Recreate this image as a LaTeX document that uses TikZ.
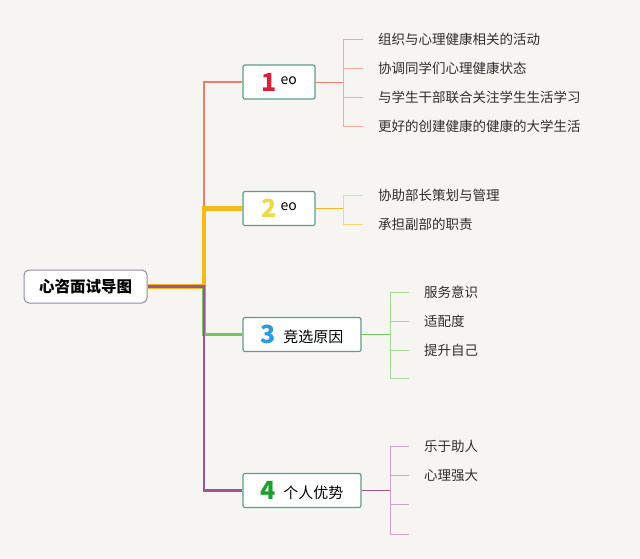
\documentclass[tikz,border=0pt]{standalone}
\usepackage{fontspec}
\setmainfont{Noto Sans CJK SC}
\usetikzlibrary{positioning}

\definecolor{bgcol}{HTML}{F7F5F2}
\definecolor{rootedge}{HTML}{8C8CA6}
\definecolor{topicedge}{HTML}{5E9E88}
\definecolor{leaftext}{HTML}{2E2E2E}
\definecolor{redline}{HTML}{EE7D68}
\definecolor{redleaf}{HTML}{F4A99B}
\definecolor{orgline}{HTML}{F7B81C}
\definecolor{orgleaf}{HTML}{F9D57A}
\definecolor{grnline}{HTML}{74C65C}
\definecolor{grnleaf}{HTML}{A2DA92}
\definecolor{purline}{HTML}{9C5698}
\definecolor{purleaf}{HTML}{CFA3CB}
\definecolor{numone}{HTML}{D8213A}
\definecolor{numtwo}{HTML}{EED94A}
\definecolor{numthree}{HTML}{2A9BE0}
\definecolor{numfour}{HTML}{1E9E2C}

\newcommand{\bignum}[2]{{\color{#1}\fontsize{25}{25}\selectfont\bfseries #2}}

\begin{document}
\begin{tikzpicture}[x=1pt, y=-1pt,
				root/.style={draw=rootedge, fill=white, line width=1pt, rounded corners=5pt,
					minimum width=123pt, minimum height=33pt, inner sep=0pt,
					font=\fontsize{15.5}{15.5}\selectfont\bfseries},
				topic/.style={draw=topicedge, fill=white, line width=1.2pt, rounded corners=2pt,
					minimum height=34pt, inner sep=0pt, font=\fontsize{15}{15}\selectfont},
				leaf/.style={anchor=west, inner sep=0pt, text=leaftext,
					font=\fontsize{13.5}{13.5}\selectfont},
				]
				
				\fill[bgcol] (0,0) rectangle (640,558);
				\useasboundingbox (0,0) rectangle (640,558);
				
				%% ── Root and main topics ───────────────────────────────────────────────
				\node[root] (root) at (85.5,286.5) {心咨面试导图};
				\coordinate (t) at (204,286.5);
				
				\node[topic, minimum width=72pt] (b1) at (279,82)
				{\bignum{numone}{1}\;\raisebox{7pt}{\fontsize{14}{14}\selectfont eo}};
				\node[topic, minimum width=72pt] (b2) at (279,208.5)
				{\bignum{numtwo}{2}\;\raisebox{7pt}{\fontsize{14}{14}\selectfont eo}};
				\node[topic, minimum width=118pt] (b3) at (302,334.5)
				{\bignum{numthree}{3}\enspace\raisebox{1.5pt}{竞选原因}};
				\node[topic, minimum width=118pt] (b4) at (302,490.5)
				{\bignum{numfour}{4}\enspace\raisebox{1.5pt}{个人优势}};
				
				\draw[redline, line width=1.3pt] (root.east) -- (t) |- (b1.west);
				\draw[orgline, line width=4.5pt] (root.east) -- (t) |- (b2.west);
				\draw[grnline, line width=3.6pt] (root.east) -- (t) |- (b3.west);
				\draw[purline, line width=2.4pt] (root.east) -- (t) |- (b4.west);
				
				%% ── Topic 1 ────────────────────────────────────────────────────────────
				\node[leaf] (l11) at (378,39.5)  {组织与心理健康相关的活动};
				\node[leaf] (l12) at (378,68.5)  {协调同学们心理健康状态};
				\node[leaf] (l13) at (378,97.5)  {与学生干部联合关注学生生活学习};
				\node[leaf] (l14) at (378,126.5) {更好的创建健康的健康的大学生活};
				\coordinate (k1) at (343,82);
				
				\draw[redline, line width=1pt] (b1.east) -- (k1);
				\draw[redleaf, line width=1pt] (k1 |- l11.west) -- (k1 |- l14.west);
				\foreach \i in {1,...,4}
				\draw[redleaf, line width=1pt] (k1 |- l1\i.west) -- ([xshift=-15pt]l1\i.west);
				
				%% ── Topic 2 ────────────────────────────────────────────────────────────
				\node[leaf] (l21) at (378,195) {协助部长策划与管理};
				\node[leaf] (l22) at (378,224) {承担副部的职责};
				\coordinate (k2) at (343,208.5);
				
				\draw[orgline, line width=1.2pt] (b2.east) -- (k2);
				\draw[orgleaf, line width=1pt] (k2 |- l21.west) -- (k2 |- l22.west);
				\foreach \i in {1,2}
				\draw[orgleaf, line width=1pt] (k2 |- l2\i.west) -- ([xshift=-15pt]l2\i.west);
				
				%% ── Topic 3 ────────────────────────────────────────────────────────────
				\node[leaf] (l31) at (424,292.5) {服务意识};
				\node[leaf] (l32) at (424,321.5) {适配度};
				\node[leaf] (l33) at (424,350)   {提升自己};
				\coordinate (k3) at (390,334.5);
				\coordinate (e3) at (409,378.5);
				
				\draw[grnline, line width=1.2pt] (b3.east) -- (k3);
				\draw[grnleaf, line width=1pt] (k3 |- l31.west) -- (k3 |- e3) -- (e3);
				\foreach \i in {1,2,3}
				\draw[grnleaf, line width=1pt] (k3 |- l3\i.west) -- ([xshift=-15pt]l3\i.west);
				
				%% ── Topic 4 ────────────────────────────────────────────────────────────
				\node[leaf] (l41) at (424,446.5) {乐于助人};
				\node[leaf] (l42) at (424,475.5) {心理强大};
				\coordinate (k4) at (390,490.5);
				\coordinate (e43) at (409,504.5);
				\coordinate (e44) at (409,534);
				
				\draw[purline, line width=1.2pt] (b4.east) -- (k4);
				\draw[purleaf, line width=1pt] (k4 |- l41.west) -- (k4 |- e44) -- (e44);
				\draw[purleaf, line width=1pt] (k4 |- e43) -- (e43);
				\foreach \i in {1,2}
				\draw[purleaf, line width=1pt] (k4 |- l4\i.west) -- ([xshift=-15pt]l4\i.west);
				
			\end{tikzpicture}
\end{document}
